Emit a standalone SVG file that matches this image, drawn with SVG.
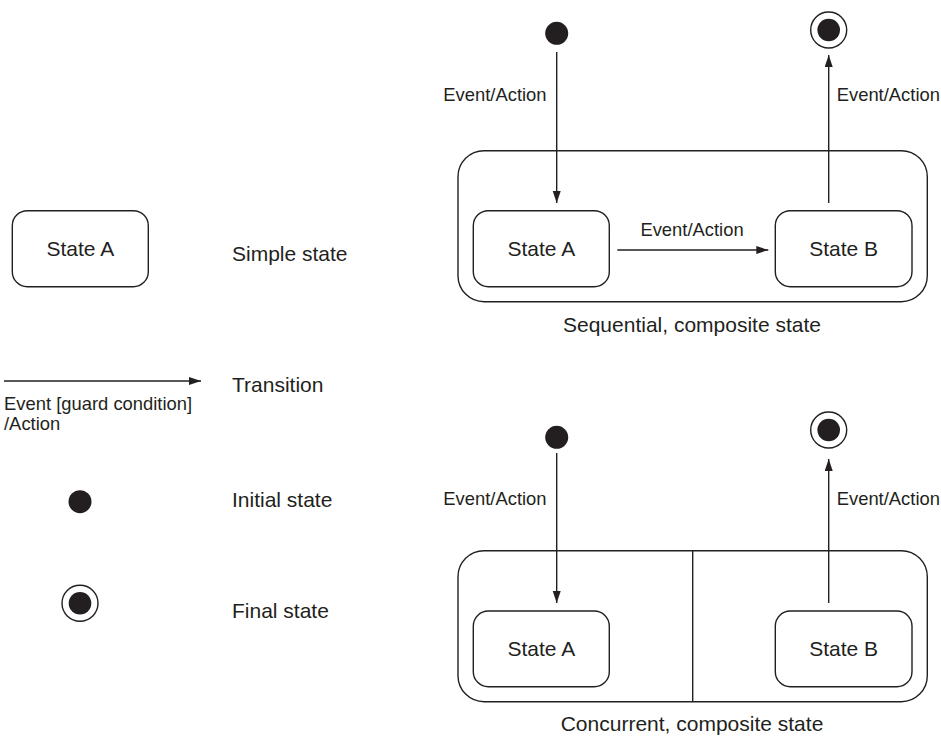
<svg xmlns="http://www.w3.org/2000/svg" width="941" height="736" viewBox="0 0 941 736">
<style>
.st{fill:#fff;stroke:#231f20;stroke-width:1.4}
.dot{fill:#231f20}
.ring{fill:#fff;stroke:#231f20;stroke-width:1.4}
.ln{stroke:#231f20;stroke-width:1.4;fill:none}
.arr{stroke:#231f20;stroke-width:1.4;fill:none;marker-end:url(#ah)}
text{font-family:"Liberation Sans",Arial,sans-serif;fill:#231f20}
.big{font-size:21px}
.sm{font-size:18.4px}
.c{text-anchor:middle}
</style>
<defs>
<marker id="ah" markerUnits="userSpaceOnUse" markerWidth="13" markerHeight="9" refX="12" refY="4" orient="auto">
<path d="M0,0 L12,4 L0,8 z" fill="#231f20"/>
</marker>
</defs>
<rect width="941" height="736" fill="#fff"/>

<g id="legend">
<g id="legend-simple">
<rect class="st" x="12.3" y="210.7" width="136" height="76" rx="15"/>
<text class="big c" x="80.3" y="255.5">State A</text>
<text class="big" x="232" y="261">Simple state</text>
</g>
<g id="legend-transition">
<line class="arr" x1="4" y1="381" x2="201" y2="381"/>
<text class="big" x="232" y="392">Transition</text>
<text class="sm" x="4" y="410">Event [guard condition]</text>
<text class="sm" x="4" y="430">/Action</text>
</g>
<g id="legend-initial">
<circle class="dot" cx="80" cy="501.7" r="11.5"/>
<text class="big" x="232" y="507">Initial state</text>
</g>
<g id="legend-final">
<circle class="ring" cx="80" cy="603.3" r="18"/>
<circle class="dot" cx="80" cy="603.3" r="11.3"/>
<text class="big" x="232" y="618">Final state</text>
</g>
</g>

<g id="seq">
<g id="seq-composite">
<rect class="st" x="458" y="150.7" width="469.3" height="151" rx="26"/>
<text class="big c" x="692" y="332">Sequential, composite state</text>
</g>
<g id="seq-initial"><circle class="dot" cx="556.7" cy="33.3" r="11.5"/></g>
<g id="seq-final">
<circle class="ring" cx="828.7" cy="30" r="18"/>
<circle class="dot" cx="828.7" cy="30" r="11.3"/>
</g>
<g id="seq-stateA">
<rect class="st" x="473.3" y="210.7" width="136" height="76" rx="15"/>
<text class="big c" x="541.3" y="255.5">State A</text>
</g>
<g id="seq-stateB">
<rect class="st" x="775.3" y="210.7" width="136.7" height="76" rx="15"/>
<text class="big c" x="843.7" y="255.5">State B</text>
</g>
</g>

<g id="con">
<g id="con-composite">
<rect class="st" x="458" y="550.7" width="469.3" height="151" rx="26"/>
<line class="ln" x1="692.7" y1="550.7" x2="692.7" y2="701.7"/>
<text class="big c" x="692" y="731">Concurrent, composite state</text>
</g>
<g id="con-initial"><circle class="dot" cx="556.7" cy="437.3" r="11.5"/></g>
<g id="con-final">
<circle class="ring" cx="828.7" cy="430" r="18"/>
<circle class="dot" cx="828.7" cy="430" r="11.3"/>
</g>
<g id="con-stateA">
<rect class="st" x="473.3" y="611" width="136" height="75.7" rx="15"/>
<text class="big c" x="541.3" y="655.5">State A</text>
</g>
<g id="con-stateB">
<rect class="st" x="775.3" y="611" width="136.7" height="75.7" rx="15"/>
<text class="big c" x="843.7" y="655.5">State B</text>
</g>
</g>

<g id="connectors">
<line class="arr" x1="556.7" y1="52" x2="556.7" y2="203"/>
<text class="sm" x="443.3" y="101">Event/Action</text>
<line class="arr" x1="617.3" y1="250" x2="768.3" y2="250"/>
<text class="sm c" x="692" y="236">Event/Action</text>
<line class="arr" x1="828.7" y1="203" x2="828.7" y2="55"/>
<text class="sm" x="836.7" y="101">Event/Action</text>

<line class="arr" x1="556.7" y1="453" x2="556.7" y2="603"/>
<text class="sm" x="443.3" y="505">Event/Action</text>
<line class="arr" x1="828.7" y1="603" x2="828.7" y2="459"/>
<text class="sm" x="836.7" y="505">Event/Action</text>
</g>
</svg>
